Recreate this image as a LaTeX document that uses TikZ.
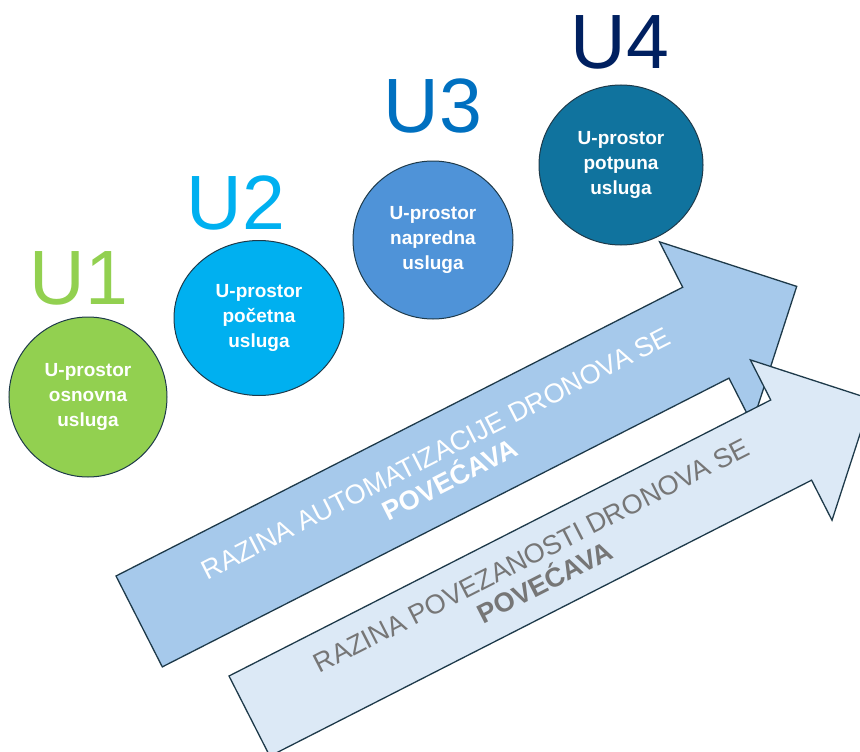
\documentclass[tikz,border=0pt]{standalone}
\usepackage{fontspec}
\setmainfont{Liberation Sans}
\usetikzlibrary{shapes.geometric}
\definecolor{cGreen}{HTML}{92D050}
\definecolor{cCyan}{HTML}{00B0F0}
\definecolor{cMid}{HTML}{4F93D8}
\definecolor{cTeal}{HTML}{10739E}
\definecolor{lUthree}{HTML}{0070C0}
\definecolor{lUfour}{HTML}{002060}
\definecolor{arrA}{HTML}{A6C9EB}
\definecolor{arrB}{HTML}{DCE9F6}
\definecolor{edgec}{HTML}{1E3A4A}
\definecolor{greytxt}{HTML}{767676}
\begin{document}
\begin{tikzpicture}[x=1pt,y=1pt,
  bubble/.style={ellipse, draw=edgec, line width=1pt, text=white, align=center, inner sep=0pt, font=\fontsize{19}{25}\selectfont\bfseries},
  ulabel/.style={anchor=base, inner sep=0pt, font=\fontsize{77}{77}\selectfont},
  bigarrow/.style={draw=edgec, line width=1.3pt, line join=miter},
  arrowtext/.style={transform shape, align=center, inner sep=0pt, font=\fontsize{27}{30}\selectfont}]
\useasboundingbox (0,0) rectangle (860,-752);
\clip (0,0) rectangle (860,-752);
% arrow 1
\begin{scope}[shift={(116,-576)}, rotate=27]
\draw[bigarrow, fill=arrA] (0,0) -- (636,0) -- (636,51) -- (738,-51) -- (636,-153) -- (636,-102) -- (0,-102) -- cycle;
\node[arrowtext, text=white] (t1) at (341,-51) {RAZINA AUTOMATIZACIJE DRONOVA SE\\\textbf{POVEĆAVA}};
\end{scope}
% arrow 2
\begin{scope}[shift={(229,-676)}, rotate=27]
\draw[bigarrow, fill=arrB] (0,0) -- (608,0) -- (608,45) -- (698,-45) -- (608,-135) -- (608,-90) -- (0,-90) -- cycle;
\node[arrowtext, text=greytxt] (t2) at (324,-45) {RAZINA POVEZANOSTI DRONOVA SE\\\textbf{POVEĆAVA}};
\end{scope}
% circles
\node[bubble, fill=cGreen, minimum width=158, minimum height=160] (c1) at (88,-397) {U-prostor\\osnovna\\usluga};
\node[bubble, fill=cCyan, minimum width=170, minimum height=155] (c2) at (259,-318) {U-prostor\\početna\\usluga};
\node[bubble, fill=cMid, minimum width=160, minimum height=158] (c3) at (433,-240) {U-prostor\\napredna\\usluga};
\node[bubble, fill=cTeal, minimum width=164, minimum height=160] (c4) at (621,-165) {U-prostor\\potpuna\\usluga};
% labels
\node[ulabel, text=cGreen] (u1) at (79,-304) {U1};
\node[ulabel, text=cCyan] (u2) at (236,-229) {U2};
\node[ulabel, text=lUthree] (u3) at (433,-132) {U3};
\node[ulabel, text=lUfour] (u4) at (620,-69) {U4};
\end{tikzpicture}
\end{document}
